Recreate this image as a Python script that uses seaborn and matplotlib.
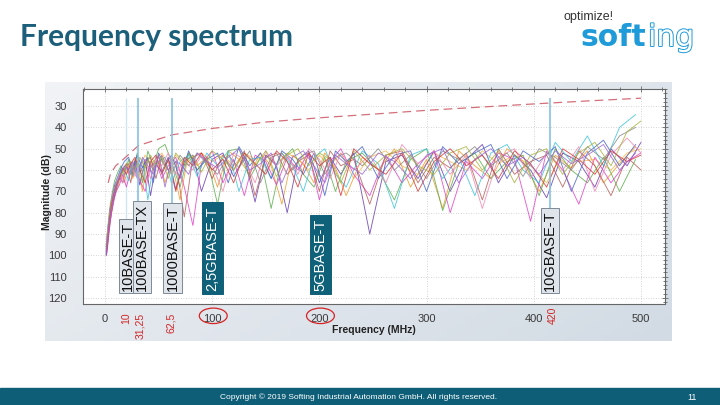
import numpy as np
import pandas as pd
import matplotlib
matplotlib.use("Agg")
import matplotlib.pyplot as plt
import seaborn as sns
import matplotlib.patheffects as pe
import matplotlib.transforms as mtransforms
from matplotlib.patches import Rectangle, Ellipse
from matplotlib.colors import LinearSegmentedColormap

# ---------------- data ----------------
freq_a = [1, 2, 3, 4, 5, 7, 9, 12, 15, 18, 22, 26, 30, 35, 40, 45, 50, 56, 62, 70,
          78, 86, 95, 105, 115, 125, 135, 145, 155, 165, 175, 185, 195, 205, 215, 225,
          240, 255, 270, 285, 300, 315, 330, 345, 360, 375, 390, 405, 420, 435, 450,
          465, 480, 495]
freq_b = [1.5, 2.5, 3.5, 4.5, 6, 8, 10.5, 13.5, 16.5, 20, 24, 28, 32.5, 37.5, 42.5,
          47.5, 53, 59, 66, 74, 82, 90, 100, 110, 120, 130, 140, 150, 160, 170, 180,
          190, 200, 210, 220, 232, 247, 262, 277, 292, 307, 322, 337, 352, 367, 382,
          397, 412, 427, 442, 457, 472, 487, 500]

orange = [100, 97, 92, 88, 84, 78, 72, 68, 62, 66, 58, 64, 56, 70, 55, 60, 53, 66, 56, 74,
          52, 58, 54, 68, 51, 55, 62, 52, 58, 76, 53, 57, 66, 52, 59, 72, 54, 60, 50, 68,
          55, 78, 51, 58, 64, 50, 56, 70, 53, 59, 51, 66, 57, 49]
purple = [99, 94, 89, 85, 80, 74, 69, 63, 66, 58, 62, 56, 67, 55, 72, 57, 61, 54, 69, 56,
          53, 70, 55, 52, 63, 54, 75, 53, 58, 80, 55, 51, 66, 54, 62, 52, 90, 56, 53, 64,
          51, 70, 55, 48, 66, 53, 60, 73, 52, 56, 68, 50, 58, 47]
green = [96, 90, 85, 80, 76, 70, 65, 61, 58, 63, 55, 62, 52, 66, 51, 58, 50, 48, 56, 68,
         52, 60, 54, 76, 51, 50, 64, 54, 78, 55, 50, 62, 68, 54, 70, 56, 52, 60, 74, 55,
         50, 79, 57, 52, 64, 56, 53, 72, 50, 60, 66, 54, 70, 55]
magenta = [100, 96, 91, 86, 80, 75, 70, 67, 62, 68, 60, 57, 65, 70, 58, 56, 64, 58, 54, 68,
           86, 57, 51, 66, 55, 72, 53, 56, 67, 54, 60, 52, 74, 56, 50, 62, 72, 53, 66, 57,
           51, 80, 56, 64, 52, 55, 84, 51, 60, 76, 54, 66, 56, 52]
cyan = [97, 92, 86, 82, 78, 73, 68, 64, 60, 59, 65, 57, 62, 55, 74, 58, 56, 54, 66, 56,
        53, 63, 52, 58, 51, 70, 55, 54, 64, 52, 58, 70, 54, 50, 62, 68, 51, 57, 78, 53,
        50, 64, 54, 72, 52, 48, 60, 66, 47, 56, 44, 58, 40, 34]
brown = [95, 90, 85, 80, 75, 71, 68, 63, 60, 57, 66, 55, 61, 56, 54, 64, 53, 60, 56, 82,
         54, 52, 64, 53, 60, 51, 72, 54, 52, 62, 56, 53, 70, 51, 58, 55, 76, 53, 51, 66,
         54, 59, 52, 74, 50, 62, 56, 53, 68, 51, 58, 72, 54, 60]
blue = [100, 95, 89, 84, 78, 72, 67, 63, 59, 56, 54, 60, 53, 59, 54, 66, 52, 58, 53, 64,
        51, 60, 55, 52, 66, 49, 58, 52, 64, 51, 55, 62, 52, 72, 51, 56, 49, 64, 53, 51,
        70, 49, 57, 52, 48, 64, 51, 56, 49, 70, 52, 46, 58, 48]
pink = [94, 88, 84, 79, 74, 70, 66, 62, 66, 59, 56, 63, 58, 55, 64, 54, 58, 52, 62, 55,
        60, 53, 58, 70, 52, 55, 66, 51, 58, 53, 62, 50, 55, 64, 52, 60, 53, 66, 48, 57,
        51, 62, 53, 78, 54, 50, 64, 52, 60, 49, 70, 53, 45, 52]
gray = [98, 93, 88, 83, 78, 73, 69, 65, 62, 60, 57, 63, 56, 61, 55, 60, 54, 58, 62, 53,
        58, 52, 57, 62, 53, 59, 51, 66, 54, 52, 60, 53, 51, 62, 54, 52, 58, 50, 60, 53,
        64, 51, 55, 49, 58, 52, 63, 50, 54, 60, 49, 55, 44, 40]
olive = [97, 91, 86, 81, 76, 72, 68, 64, 61, 58, 56, 60, 54, 59, 53, 58, 54, 64, 52, 57,
         53, 61, 51, 55, 60, 52, 58, 51, 63, 53, 50, 58, 52, 55, 66, 51, 60, 53, 50, 58,
         62, 52, 49, 60, 51, 66, 53, 50, 62, 52, 47, 58, 42, 37]
red = [98, 93, 87, 82, 77, 72, 67, 64, 59, 62, 57, 54, 60, 66, 56, 53, 62, 55, 70, 54,
       58, 52, 60, 55, 66, 52, 57, 62, 51, 56, 68, 52, 58, 54, 72, 50, 57, 62, 52, 70,
       56, 50, 58, 53, 64, 51, 57, 68, 50, 55, 62, 51, 56, 53]
violet = [99, 94, 90, 85, 81, 76, 70, 66, 61, 58, 60, 56, 64, 54, 58, 62, 53, 68, 55, 57,
          62, 52, 56, 59, 54, 50, 60, 57, 52, 66, 54, 51, 58, 66, 53, 57, 62, 52, 56, 64,
          53, 50, 66, 55, 50, 58, 54, 62, 51, 57, 53, 48, 60, 52]
light_orange = [97, 92, 88, 83, 78, 73, 69, 64, 60, 57, 59, 55, 58, 53, 57, 55, 52, 57, 53, 58,
                54, 52, 56, 53, 58, 52, 55, 53, 57, 52, 55, 60, 53, 58, 52, 64, 54, 51, 58, 62,
                52, 56, 60, 51, 57, 53, 58, 66, 52, 56, 55, 60, 52, 50]

limit_freq = [3, 5, 10, 17, 31.25, 62.5, 100, 150, 200, 250, 300, 350, 400, 450, 500]
limit_db = [66, 62, 58, 55, 48.5, 43.5, 40.5, 37.5, 35.5, 33.8, 32, 30.5, 29, 27.6, 26.3]

label_texts = ["10BASE-T", "100BASE-TX", "1000BASE-T", "2,5GBASE-T", "5GBASE-T", "10GBASE-T"]
red_texts = ["10", "31,25", "62,5", "420"]
x_ticks = [0, 100, 200, 300, 400, 500]
y_ticks = [30, 40, 50, 60, 70, 80, 90, 100, 110, 120]

# ---------------- styling / layout ----------------
series = [("light_orange", freq_b, light_orange, "#f7b955"),
          ("orange", freq_a, orange, "#f39c2c"), ("purple", freq_b, purple, "#6a3fb5"),
          ("green", freq_a, green, "#5fae4f"), ("magenta", freq_b, magenta, "#e045c8"),
          ("cyan", freq_a, cyan, "#3fc4d8"), ("brown", freq_b, brown, "#b9605a"),
          ("blue", freq_a, blue, "#4a68c8"), ("pink", freq_b, pink, "#f08ab0"),
          ("gray", freq_a, gray, "#8a8a8a"), ("olive", freq_b, olive, "#a7b43c"),
          ("red", freq_b, red, "#d63c3c"), ("violet", freq_a, violet, "#9a6ad6")]

rows = []
for name, fx, vals, _ in series:
    for f, v in zip(fx, vals):
        rows.append((name, f, v))
df = pd.DataFrame(rows, columns=["series", "freq", "db"])
palette = {name: c for name, _, _, c in series}
df_lim = pd.DataFrame({"freq": limit_freq, "db": limit_db})

sns.set_theme(style="white")
plt.rcParams["font.family"] = ["Liberation Sans", "DejaVu Sans"]

W, H = 720, 405
fig = plt.figure(figsize=(7.2, 4.05), dpi=100)
fig.patch.set_facecolor("white")

def fx_(px):
    return px / W

def fy_(py):
    return 1 - py / H

# panel background gradient
bg = fig.add_axes([fx_(45), fy_(341), fx_(672 - 45), (341 - 82) / H])
gx, gy = np.meshgrid(np.linspace(0, 1, 64), np.linspace(0, 1, 64))
bg.imshow(0.6 * gx + 0.4 * gy, cmap=LinearSegmentedColormap.from_list("bgc", ["#f1f3f6", "#d2dbe4"]),
          aspect="auto", extent=[0, 1, 0, 1], origin="upper")
bg.set_axis_off()

ax = fig.add_axes([fx_(83), fy_(304), fx_(665 - 83), (304 - 89) / H])
ax.set_facecolor("white")

sns.lineplot(data=df, x="freq", y="db", hue="series", palette=palette, estimator=None,
             sort=False, legend=False, lw=0.65, alpha=0.85, ax=ax, zorder=3)
sns.lineplot(data=df_lim, x="freq", y="db", color="#d4707a", lw=0.9, ax=ax, zorder=4,
             estimator=None)
ax.lines[-1].set_dashes([7, 4])

ax.set_xlim(-20.5, 522.4)
ax.set_ylim(122.8, 22.5)
ax.set_xticks(x_ticks)
ax.set_yticks(y_ticks)
ax.set_xticks(np.arange(-20, 521, 20), minor=True)
ax.set_yticks(np.arange(22, 123, 2), minor=True)
ax.grid(True, which="major", color="#c8c8c8", lw=0.6, ls=(0, (1, 2)))
ax.set_xlabel("")
ax.set_ylabel("")
for s in ax.spines.values():
    s.set_color("#666666")
    s.set_linewidth(0.8)
ax.tick_params(axis="both", which="both", top=True, right=True, direction="inout",
               color="#666666", width=0.6)
ax.tick_params(axis="both", which="major", length=5, labelsize=8, labelcolor="#3a3a3a")
ax.tick_params(axis="both", which="minor", length=3)
ax.tick_params(axis="x", which="major", pad=5)
ax.tick_params(axis="y", which="major", pad=9)

# marker lines
trans = mtransforms.blended_transform_factory(ax.transData, ax.transAxes)
ax.vlines([20], 26, 95, color="#cfe6f1", lw=1.0, zorder=2)
ax.vlines([31.25, 62.5, 415], 26, 110, color="#86c2de", lw=1.2, zorder=5)

# labels (boxes)
label_pos = [21.5, 34.5, 63, 100.5, 201, 415]
light_box = dict(boxstyle="square,pad=0.15", fc="#dfe5eb", ec="#7d8a96", lw=0.7)
dark_box = dict(boxstyle="square,pad=0.25", fc="#0f6079", ec="#0f6079", lw=0.7)
for txt, xp in zip(label_texts, label_pos):
    dark = txt in ("2,5GBASE-T", "5GBASE-T")
    ax.text(xp, 116.5, txt, rotation=90, ha="center", va="bottom", fontsize=10.5,
            color="white" if dark else "#111111", bbox=dark_box if dark else light_box,
            zorder=6)

# red frequency annotations under the axis
red_pos = [19.5, 32.5, 61.5, 418]
red_y = [-0.04, -0.04, -0.04, -0.012]
for txt, xp, yp in zip(red_texts, red_pos, red_y):
    ax.text(xp, yp, txt, rotation=90, ha="center", va="top", fontsize=7.5,
            color="#d42424", transform=trans, clip_on=False)
for xc in (100, 200):
    ax.add_patch(Ellipse((xc + 1, -0.055), 26, 0.072, transform=trans, fill=False,
                         ec="#d42424", lw=0.9, clip_on=False))

fig.text(fx_(47), fy_(192), "Magnitude (dB)", rotation=90, ha="center", va="center",
         fontsize=7.5, fontweight="bold", color="#222222")
fig.text(fx_(374), fy_(330), "Frequency (MHz)", ha="center", va="center",
         fontsize=7.5, fontweight="bold", color="#222222")

# title
fig.text(fx_(20), fy_(37), "Frequency spectrum", ha="left", va="center", fontsize=21.5,
         fontweight="bold", color="#1c5f7b", family=["Lato", "DejaVu Sans"])

# logo
fig.text(fx_(563), fy_(17), "optimize!", ha="left", va="center", fontsize=9, color="#333333")
t_soft = fig.text(fx_(581), fy_(46), "soft", ha="left", va="baseline", fontsize=21.5,
                  fontweight="bold", color="#1f9bd9", family=["DejaVu Sans"])
fig.canvas.draw()
bb = t_soft.get_window_extent()
fig.text(bb.x1 / W + 0.002, fy_(46), "ing", ha="left", va="baseline", fontsize=21.5,
         color="white", family=["DejaVu Sans"],
         path_effects=[pe.withStroke(linewidth=1.4, foreground="#1f9bd9")])

# footer
fig.add_artist(Rectangle((0, 0), 1, 17 / H, transform=fig.transFigure, color="#0e5e78",
                         zorder=0))
fig.text(fx_(359), fy_(397), "Copyright © 2019 Softing Industrial Automation GmbH. All rights reserved.",
         ha="center", va="center", fontsize=6, color="white")
fig.text(fx_(692), fy_(397), "11", ha="center", va="center", fontsize=6.5, color="white")

fig.savefig("out.png", dpi=100)
